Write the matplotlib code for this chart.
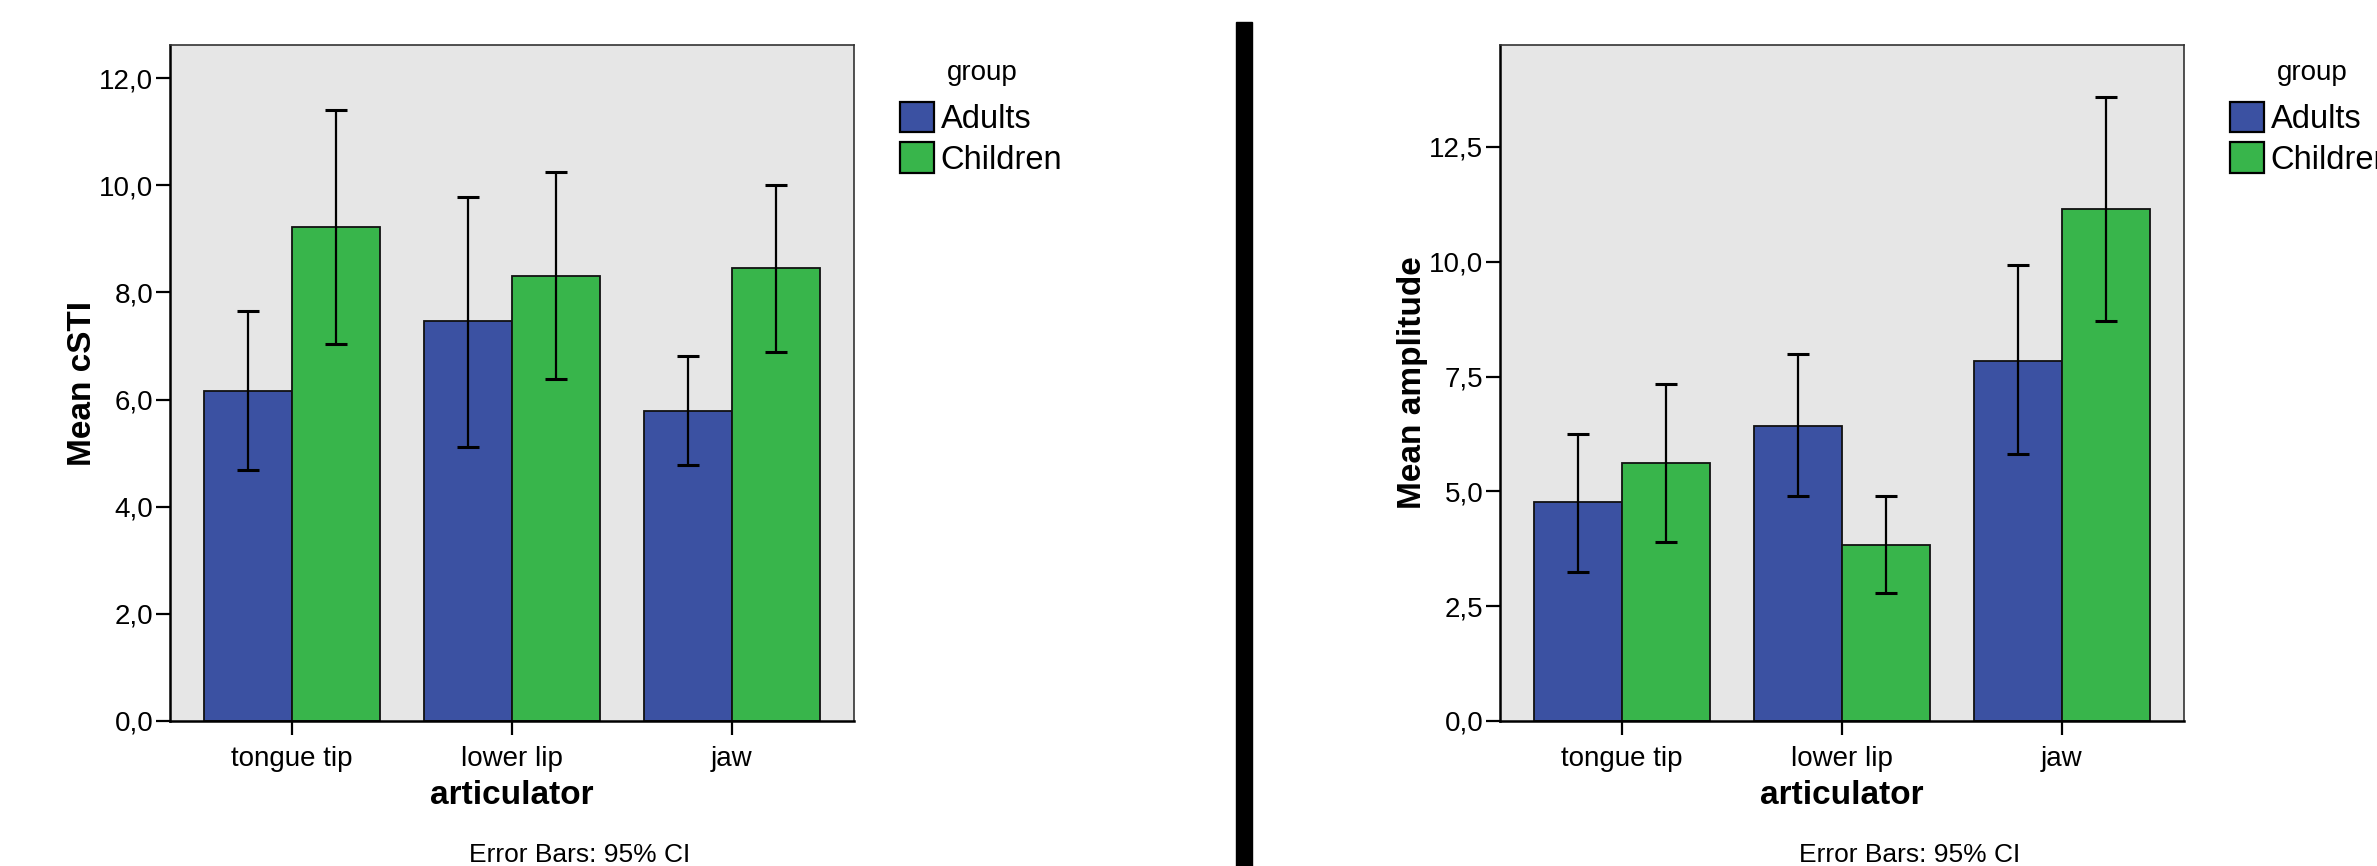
import matplotlib
matplotlib.use('Agg')
import matplotlib.pyplot as plt
from matplotlib.patches import Rectangle
from matplotlib.ticker import FuncFormatter
import numpy as np

plt.rcParams['font.family'] = ['Liberation Sans', 'DejaVu Sans']

categories = ['tongue tip', 'lower lip', 'jaw']
groups = ['Adults', 'Children']
colors = ['#3b51a2', '#38b54b']

# left panel: mean cSTI with 95% CI
csti_mean = {'Adults': [6.16, 7.46, 5.79], 'Children': [9.22, 8.31, 8.45]}
csti_low = {'Adults': [4.68, 5.11, 4.77], 'Children': [7.04, 6.38, 6.89]}
csti_high = {'Adults': [7.66, 9.79, 6.81], 'Children': [11.40, 10.24, 10.01]}
csti_ticks = [0, 2, 4, 6, 8, 10, 12]

# right panel: mean amplitude with 95% CI
amp_mean = {'Adults': [4.76, 6.42, 7.84], 'Children': [5.62, 3.84, 11.14]}
amp_low = {'Adults': [3.24, 4.89, 5.82], 'Children': [3.90, 2.78, 8.70]}
amp_high = {'Adults': [6.25, 8.00, 9.92], 'Children': [7.34, 4.89, 13.59]}
amp_ticks = [0, 2.5, 5, 7.5, 10, 12.5]

W, H = 2377, 866
fig = plt.figure(figsize=(W / 100, H / 100), dpi=100)


def comma(v, pos):
    return '{:.1f}'.format(v).replace('.', ',')


def draw_panel(left_px, means, lows, highs, ticks, ymax, ylabel, legend_x):
    ax = fig.add_axes([left_px / W, (H - 721) / H, 684 / W, 676 / H])
    ax.set_facecolor('#e6e6e6')
    x = np.arange(len(categories))
    width = 0.4
    for i, g in enumerate(groups):
        pos = x + (i - 0.5) * width
        m = np.array(means[g])
        err = [m - np.array(lows[g]), np.array(highs[g]) - m]
        ax.bar(pos, m, width, color=colors[i], edgecolor='#111111',
               linewidth=1.3, label=g, zorder=2)
        ax.errorbar(pos, m, yerr=err, fmt='none', ecolor='black',
                    elinewidth=1.6, capsize=8, capthick=2.2, zorder=3)
    ax.set_xlim(-0.555, 2.555)
    ax.set_ylim(0, ymax)
    ax.set_xticks(x)
    ax.set_xticklabels(categories)
    ax.set_yticks(ticks)
    ax.yaxis.set_major_formatter(FuncFormatter(comma))
    ax.tick_params(axis='y', direction='out', length=10, width=1.6,
                   labelsize=20, pad=2)
    ax.tick_params(axis='x', direction='out', length=10, width=1.6,
                   labelsize=20, pad=8)
    for s in ['left', 'bottom']:
        ax.spines[s].set_color('black')
        ax.spines[s].set_linewidth(1.8)
    for s in ['top', 'right']:
        ax.spines[s].set_color('#333333')
        ax.spines[s].set_linewidth(1.2)
    ax.set_xlabel('articulator', fontsize=24, fontweight='bold', labelpad=6)
    ax.set_ylabel(ylabel, fontsize=24, fontweight='bold', labelpad=1)
    fig.text((left_px + 342 + 68) / W, (H - 855) / H, 'Error Bars: 95% CI',
             ha='center', va='center', fontsize=19)
    leg = ax.legend(loc='upper left', bbox_to_anchor=(legend_x / W, 1 - 102 / H),
                    bbox_transform=fig.transFigure, frameon=False,
                    fontsize=23.5,
                    handlelength=1.05, handleheight=1.05, handletextpad=0.2,
                    labelspacing=0.22, borderpad=0, borderaxespad=0)
    for p in leg.get_patches():
        p.set_edgecolor('black')
        p.set_linewidth(1.6)
    fig.text((legend_x + 82) / W, 1 - 73 / H, 'group', ha='center',
             va='center', fontsize=20)
    return ax


draw_panel(170, csti_mean, csti_low, csti_high, csti_ticks, 12.62,
           'Mean cSTI', 900)
draw_panel(1500, amp_mean, amp_low, amp_high, amp_ticks, 14.72,
           'Mean amplitude', 2230)

# black divider between the two panels
fig.add_artist(Rectangle((1236 / W, 0), 16 / W, (H - 22) / H,
                         transform=fig.transFigure, color='black'))

fig.savefig('out.png', dpi=100)
